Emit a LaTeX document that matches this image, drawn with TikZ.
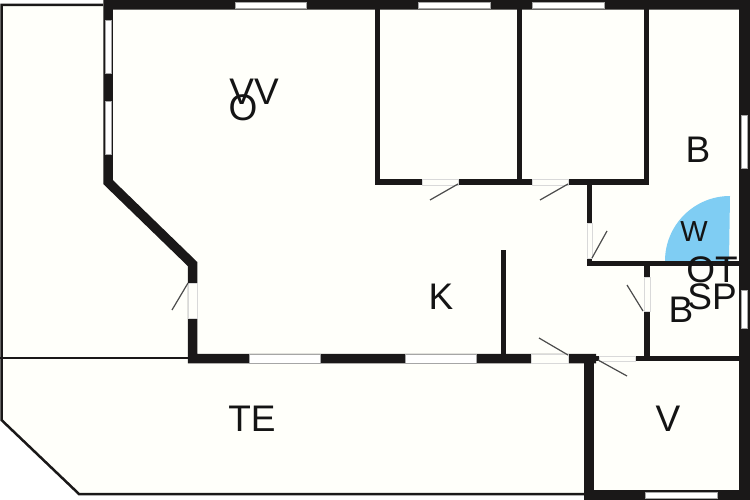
\documentclass[tikz,border=0pt]{standalone}
\usepackage{xcolor}
\usepackage{fontspec}
\setmainfont{Liberation Sans}
\usepackage{tikz}

\definecolor{floorcol}{HTML}{FFFFFA}
\definecolor{wallcol}{HTML}{1A1818}
\definecolor{swingcol}{HTML}{7FCDF3}

\tikzset{
    wall/.style={draw=wallcol,line width=#1},
    wall/.default=9.5pt,
    window/.style={fill=white,draw=gray!70,line width=0.5pt},
    gap/.style={fill=floorcol,draw=gray!30,line width=0.5pt},
    leaf/.style={draw=black!70,line width=1.2pt},
    outline/.style={draw=wallcol,line width=#1},
    outline/.default=2.5pt,
    roomtext/.style={inner sep=0pt,font=\fontsize{37}{37}\selectfont,text=black!92}
}

\begin{document}
\begin{tikzpicture}[x=1pt,y=-1pt]
        \useasboundingbox (0,0) rectangle (750,500);
        \fill[floorcol] (0,5) -- (103,5) -- (103,0) -- (750,0) -- (750,500) -- (584,500) -- (584,494) -- (79,494) -- (0,420) -- cycle;

        % swing area
        \fill[swingcol] (729,261) -- (665,261) arc[start angle=180,end angle=90,radius=65pt] -- cycle;

        % terrace
        \draw[outline] (103,5) -- (1.5,5) -- (1.5,420) -- (79,494) -- (584,494);
        \draw[outline=2pt] (0,358) -- (190,358);

        % outer walls
        \draw[wall] (745,5) -- (108,5) -- (108,182) -- (192.5,264) -- (192.5,358.5) -- (596,358.5);
        \draw[wall] (589,358) -- (589,495) -- (745,495);
        \draw[wall=11pt] (744.5,0) -- (744.5,500);

        % inner walls
        \draw[wall=5pt] (503.5,250) -- (503.5,355);
        \draw[wall=5.5pt] (377.5,5) -- (377.5,182) -- (646.5,182) -- (646.5,5);
        \draw[wall=5.5pt] (519.5,5) -- (519.5,182);
        \draw[wall=5.5pt] (589.5,182) -- (589.5,263.5) -- (740,263.5);
        \draw[wall=5.5pt] (647,263) -- (647,358);
        \draw[wall=5.5pt] (596,358.5) -- (740,358.5);

        % windows
        \filldraw[window] (235,2) rectangle (306,8);
        \filldraw[window] (418,2) rectangle (490,8);
        \filldraw[window] (532,2) rectangle (604,8);
        \filldraw[window] (105,20) rectangle (111,73);
        \filldraw[window] (105,101) rectangle (111,154);
        \filldraw[window] (741,115) rectangle (747,168);
        \filldraw[window] (741,290) rectangle (747,328);
        \filldraw[window] (249,354) rectangle (320,363);
        \filldraw[window] (405,354) rectangle (476,363);
        \filldraw[window] (645,492) rectangle (717,498);

        % doors
        \filldraw[gap] (422,179) rectangle (458,185);
        \filldraw[gap] (532,179) rectangle (568,185);
        \filldraw[gap] (587,223) rectangle (592,258);
        \filldraw[gap] (644,277) rectangle (650,311);
        \filldraw[gap] (188,283) rectangle (197,318);
        \filldraw[gap] (531,354) rectangle (568,363);
        \filldraw[gap] (599,356) rectangle (635,361);

        \draw[leaf] (458,184) -- (430,200);
        \draw[leaf] (568,184) -- (540,200);
        \draw[leaf] (592,258) -- (607,231);
        \draw[leaf] (643,311) -- (627,285);
        \draw[leaf] (188,283) -- (172,310);
        \draw[leaf] (568,355) -- (539,338);
        \draw[leaf] (598,360) -- (627,376);

        % rooms
        \node[roomtext] (vv) at (254,92) {VV};
        \node[roomtext] (o) at (243,108) {O};
        \node[roomtext] (b1) at (698,150) {B};
        \node[roomtext,font=\fontsize{29}{29}\selectfont] (w) at (694,232) {W};
        \node[roomtext] (ot) at (712,270) {OT};
        \node[roomtext] (sp) at (712,297) {SP};
        \node[roomtext] (b2) at (681,310) {B};
        \node[roomtext] (k) at (441,297) {K};
        \node[roomtext] (te) at (252,419) {TE};
        \node[roomtext] (v) at (668,419) {V};
    \end{tikzpicture}
\end{document}
